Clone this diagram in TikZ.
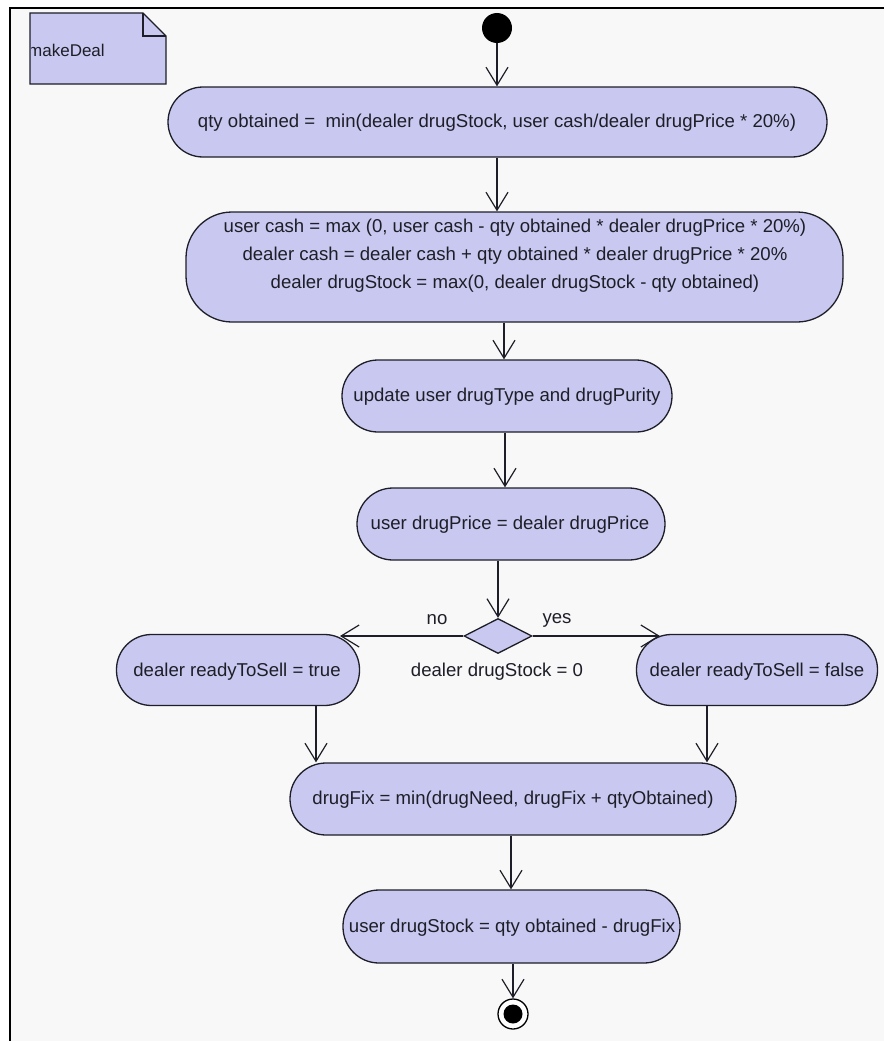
\documentclass[tikz,border=0pt]{standalone}
\usepackage{fontspec}
\setmainfont{Liberation Sans}
\usetikzlibrary{arrows.meta,shapes.geometric}
\definecolor{actfill}{RGB}{200,200,240}
\definecolor{canvas}{RGB}{248,248,248}
\definecolor{ink}{RGB}{30,30,40}
\tikzset{
  x=1pt, y=-1pt,
  action/.style={draw=ink, line width=1.3pt, fill=actfill, inner sep=0pt},
  label/.style={text=ink, font=\fontsize{18.6}{28}\selectfont, inner sep=0pt, align=center},
  flow/.style={draw=ink, line width=1.2pt, -{Straight Barb[length=18pt,width=22pt,line width=1.2pt]}},
}
\begin{document}
\begin{tikzpicture}
\useasboundingbox (0,0) rectangle (884,1041);
% paper and frame
\fill[white] (0,0) rectangle (884,1041);
\fill[canvas] (10,8) rectangle (884,1041);
\draw[black, line width=2pt] (884,8) -- (10,8) -- (10,1041);

% note with the activity name
\path[fill=actfill, draw=ink, line width=1.3pt] (30,13) -- (143,13) -- (166,36) -- (166,84) -- (30,84) -- cycle;
\draw[ink, line width=1.3pt] (143,13) -- (143,36) -- (166,36);
\begin{scope}
  \clip (31,13) rectangle (166,84);
  \node[label, anchor=west, font=\fontsize{17}{20}\selectfont] (notetext) at (28,50) {makeDeal};
\end{scope}

% initial and final states
\node[circle, fill=black, minimum size=30pt, inner sep=0pt] (start) at (497,28) {};
\node[circle, draw=black, fill=white, line width=1.3pt, minimum size=30pt, inner sep=0pt] (stop) at (513,1014) {};
\node[circle, fill=black, minimum size=19pt, inner sep=0pt] (stopdot) at (513,1014) {};

% actions
\node[action, rounded corners=35pt, minimum width=659pt, minimum height=70pt] (a1) at (497.5,122) {};
\node[label] (a1t) at (497,123) {qty obtained =\ \ min(dealer drugStock, user cash/dealer drugPrice * 20\%)};

\node[action, rounded corners=46pt, minimum width=657pt, minimum height=110pt] (a2) at (514.5,267) {};
\node[label] (a2t) at (515,256) {user cash = max (0, user cash - qty obtained * dealer drugPrice * 20\%)\\
dealer cash = dealer cash + qty obtained * dealer drugPrice * 20\%\\
dealer drugStock = max(0, dealer drugStock - qty obtained)};

\node[action, rounded corners=36pt, minimum width=330pt, minimum height=72pt] (a3) at (507,396) {};
\node[label] (a3t) at (507,397) {update user drugType and drugPurity};

\node[action, rounded corners=36pt, minimum width=308pt, minimum height=72pt] (a4) at (511,524) {};
\node[label] (a4t) at (510,525) {user drugPrice = dealer drugPrice};

\node[action, diamond, minimum width=68pt, minimum height=35pt] (dec) at (498,636) {};
\node[label] (no) at (437,620) {no};
\node[label] (yes) at (557,620) {yes};
\node[label] (cond) at (497,672) {dealer drugStock = 0};

\node[action, rounded corners=35pt, minimum width=243pt, minimum height=71pt] (left) at (238,670) {};
\node[label] (leftt) at (237,672) {dealer readyToSell = true};

\node[action, rounded corners=35pt, minimum width=241pt, minimum height=71pt] (right) at (757,670) {};
\node[label] (rightt) at (757,672) {dealer readyToSell = false};

\node[action, rounded corners=36pt, minimum width=446pt, minimum height=72pt] (a5) at (513,799) {};
\node[label] (a5t) at (513,800) {drugFix = min(drugNeed, drugFix + qtyObtained)};

\node[action, rounded corners=36pt, minimum width=337pt, minimum height=73pt] (a6) at (511.5,926.5) {};
\node[label] (a6t) at (512,928) {user drugStock = qty obtained - drugFix};

% x positions of the vertical connectors
\coordinate (x1) at (497,0);
\coordinate (x2) at (504,0);
\coordinate (x3) at (505,0);
\coordinate (x4) at (498,0);
\coordinate (x5) at (511,0);
\coordinate (x6) at (513,0);
\coordinate (cl) at (316,0);
\coordinate (cr) at (707,0);
\coordinate (noend) at (340,0);
\coordinate (yesend) at (660,0);

% control flow
\draw[flow] (x1 |- start.south) -- (x1 |- a1.north);
\draw[flow] (x1 |- a1.south) -- (x1 |- a2.north);
\draw[flow] (x2 |- a2.south) -- (x2 |- a3.north);
\draw[flow] (x3 |- a3.south) -- (x3 |- a4.north);
\draw[flow] (x4 |- a4.south) -- (dec.north);
\draw[flow] (dec.west) -- (dec.west -| noend);
\draw[flow] (dec.east) -- (dec.east -| yesend);
\draw[flow] (cl |- left.south) -- (cl |- a5.north);
\draw[flow] (cr |- right.south) -- (cr |- a5.north);
\draw[flow] (x5 |- a5.south) -- (x5 |- a6.north);
\draw[flow] (x6 |- a6.south) -- (x6 |- stop.north);
\end{tikzpicture}
\end{document}
